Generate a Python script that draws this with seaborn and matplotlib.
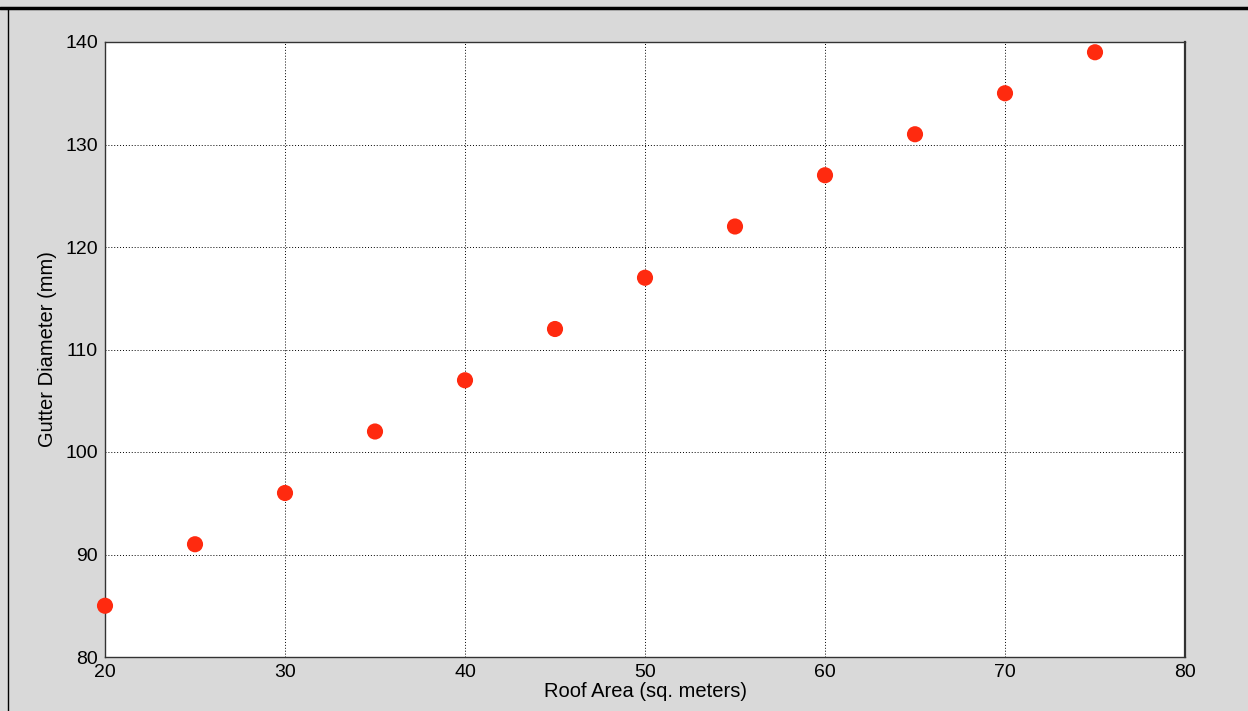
import numpy as np
import matplotlib
matplotlib.use("Agg")
import matplotlib.pyplot as plt
import seaborn as sns
import pandas as pd
from matplotlib.lines import Line2D

roof_area = [20, 25, 30, 35, 40, 45, 50, 55, 60, 65, 70, 75]
gutter_diameter = [85, 91, 96, 102, 107, 112, 117, 122, 127, 131, 135, 139]
x_ticks = [20, 30, 40, 50, 60, 70, 80]
y_ticks = [80, 90, 100, 110, 120, 130, 140]

df = pd.DataFrame({"Roof Area": roof_area, "Gutter Diameter": gutter_diameter})

sns.set_style("white")
plt.rcParams["font.family"] = ["Liberation Sans", "DejaVu Sans"]

fig = plt.figure(figsize=(12.48, 7.11), dpi=100, facecolor="#d9d9d9")
ax = fig.add_axes([105 / 1248, 1 - 657 / 711, 1080 / 1248, 615 / 711])
ax.set_facecolor("white")

sns.scatterplot(data=df, x="Roof Area", y="Gutter Diameter", ax=ax,
                color="#ff2a0f", s=135, edgecolor="none", zorder=3, clip_on=False)

ax.set_xlim(20, 80)
ax.set_ylim(80, 140)
ax.set_xticks(x_ticks)
ax.set_yticks(y_ticks)
ax.grid(True, color="black", linestyle=(0, (1, 2)), linewidth=0.7)
ax.tick_params(direction="in", length=0, labelsize=14, colors="black", pad=5)
for sp in ax.spines.values():
    sp.set_visible(True)
    sp.set_color("#333333")
    sp.set_linewidth(1.0)
ax.spines["right"].set_linewidth(1.6)

ax.set_xlabel("Roof Area (sq. meters)", fontsize=14.5, labelpad=1, color="black")
ax.set_ylabel("Gutter Diameter (mm)", fontsize=14.5, labelpad=6, color="black")

# window frame lines
fig.add_artist(Line2D([0, 1], [1 - 8 / 711, 1 - 8 / 711], color="black", linewidth=2.5,
                      transform=fig.transFigure))
fig.add_artist(Line2D([7.5 / 1248, 7.5 / 1248], [0, 1 - 8 / 711], color="black", linewidth=1.0,
                      transform=fig.transFigure))

fig.savefig("out.png", dpi=100, facecolor=fig.get_facecolor())
